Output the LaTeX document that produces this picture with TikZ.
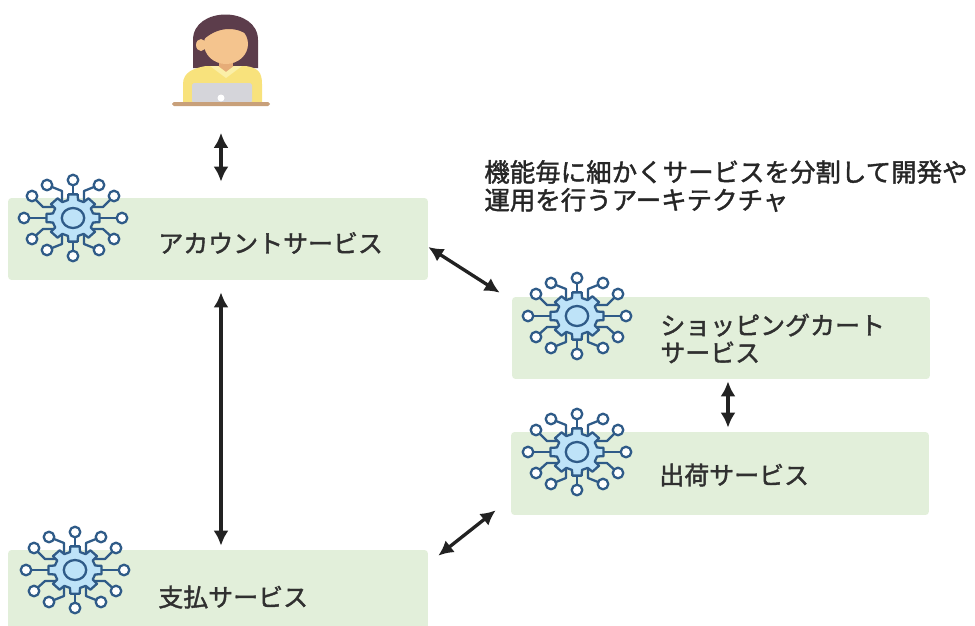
\documentclass[tikz,border=0pt]{standalone}
\usepackage{fontspec}
\newfontfamily\jpfont[FakeBold=1.6]{Noto Sans CJK JP}
\usetikzlibrary{calc,arrows.meta}

\definecolor{boxgreen}{HTML}{E2EFDA}
\definecolor{gearblue}{HTML}{BEE3F8}
\definecolor{netblue}{HTML}{2F5B88}
\definecolor{textgray}{HTML}{303030}
\definecolor{arrowgray}{HTML}{222222}
\definecolor{hair}{HTML}{5C3D4B}
\definecolor{skin}{HTML}{F4C48E}
\definecolor{skindark}{HTML}{E6AC78}
\definecolor{shirt}{HTML}{F8E27C}
\definecolor{collar}{HTML}{FBEFA8}
\definecolor{laptop}{HTML}{D5D5DA}
\definecolor{desk}{HTML}{C8A07A}

\tikzset{
	svcbox/.style={fill=boxgreen, rounded corners=2pt, minimum height=1.64cm, inner sep=0pt},
	boxtext/.style={font=\jpfont\fontsize{14.2}{15.6}\selectfont, text=textgray, anchor=west, align=left, inner sep=0pt},
	biarrow/.style={{Latex[length=8.5pt,width=8.5pt]}-{Latex[length=8.5pt,width=8.5pt]}, line width=1.9pt, draw=arrowgray},
	netline/.style={draw=netblue, line width=1.3pt, line join=round},
	% service icon: gear with connectors
	svc/.pic={
		\foreach \s in {1,-1}{
			\draw[netline] (\s*11,-15) -- (\s*11,-27) -- (\s*26,-33);
			\draw[netline] (\s*11,15) -- (\s*11,26) -- (\s*26,32);
			\draw[netline] (\s*18,-11) -- (\s*30,-11) -- (\s*41,-22);
			\draw[netline] (\s*18,11) -- (\s*30,11) -- (\s*41,21);
			\draw[netline] (\s*22,0) -- (\s*49,0);
		}
		\draw[netline] (0,-20) -- (0,-38);
		\draw[netline] (0,20) -- (0,38);
		\begin{scope}[xscale=1.12]
			\filldraw[netline, fill=gearblue] (-14:18.5)
				\foreach \a in {0,45,...,315}{ -- (\a-14:18.5) -- (\a-10:24) -- (\a+10:24) -- (\a+14:18.5) } -- cycle;
			\draw[netline] (0,0) circle (10);
		\end{scope}
		\foreach \x/\y in {0/-38, 0/38, 26/-33, -26/-33, 26/32, -26/32, 41/-22, -41/-22, 41/21, -41/21, 49/0, -49/0}{
			\filldraw[netline, fill=white] (\x,\y) circle (5.3);
		}
	}
}

\begin{document}
\begin{tikzpicture}[x=0.02cm, y=-0.02cm]
	\useasboundingbox (0,0) rectangle (975,626);

	% user at the laptop
	\node[minimum width=2cm, minimum height=2.1cm, inner sep=0pt] (user) at (221,62) {};
	\fill[hair] (193,68) -- (193,40) .. controls (193,6) and (258,6) .. (258,40) -- (258,68) -- cycle;
	\fill[shirt] (183,104) -- (183,84) .. controls (183,72) and (194,68) .. (206,66) -- (246,66) .. controls (258,68) and (262,72) .. (262,84) -- (262,104) -- cycle;
	\fill[skindark] (219,56) rectangle (233,72);
	\fill[collar] (210,66) -- (226,78) -- (242,66) -- (234,66) -- (226,72) -- (218,66) -- cycle;
	\fill[skin] (226,44) ellipse (22 and 20);
	\fill[skin] (201,45) ellipse (5 and 6);
	\fill[hair] (203,40) .. controls (205,18) and (246,16) .. (249,36) .. controls (240,28) and (220,24) .. (203,40) -- cycle;
	\fill[laptop, rounded corners=1pt] (192,83) rectangle (252,103);
	\fill[white] (221,98) circle (3.5);
	\fill[desk, rounded corners=1pt] (172,102) rectangle (270,106);

	% heading
	\node[boxtext, font=\jpfont\fontsize{14.5}{15.9}\selectfont, text=black!85] (note) at (484,186)
		{機能毎に細かくサービスを分割して開発や\\運用を行うアーキテクチャ};

	% services
	\node[svcbox, minimum width=8.4cm] (acct) at (218,239) {};
	\node[svcbox, minimum width=8.36cm] (shop) at (721,338) {};
	\node[svcbox, minimum width=8.36cm, minimum height=1.66cm] (ship) at (720,473.5) {};
	\node[svcbox, minimum width=8.4cm, minimum height=1.8cm] (pay) at (218,595) {};

	\pic at (73,218) {svc};
	\pic at (577,316) {svc};
	\pic at (577,452) {svc};
	\pic at (75,570) {svc};

	\node[boxtext] (accttext) at (158,243) {アカウントサービス};
	\node[boxtext] (shoptext) at (660,338.5) {ショッピングカート\\サービス};
	\node[boxtext] (shiptext) at (659,475) {出荷サービス};
	\node[boxtext] (paytext) at (158,597) {支払サービス};

	% calls between services
	\draw[biarrow] ($(user.south)+(0,18)$) -- ($(user.south |- acct.north)+(0,-16)$);
	\draw[biarrow] ($(acct.south)+(3,12)$) -- ($(acct.south |- pay.north)+(3,-4)$);
	\draw[biarrow] ($(acct.east)+(0,8)$) -- ($(shop.north west)+(-12,-4)$);
	\draw[biarrow] ($(shop.south)+(7,2)$) -- ($(shop.south |- ship.north)+(7,-4)$);
	\draw[biarrow] ($(pay.north east)+(10,6)$) -- ($(ship.south west)+(-15,-5)$);
\end{tikzpicture}
\end{document}
